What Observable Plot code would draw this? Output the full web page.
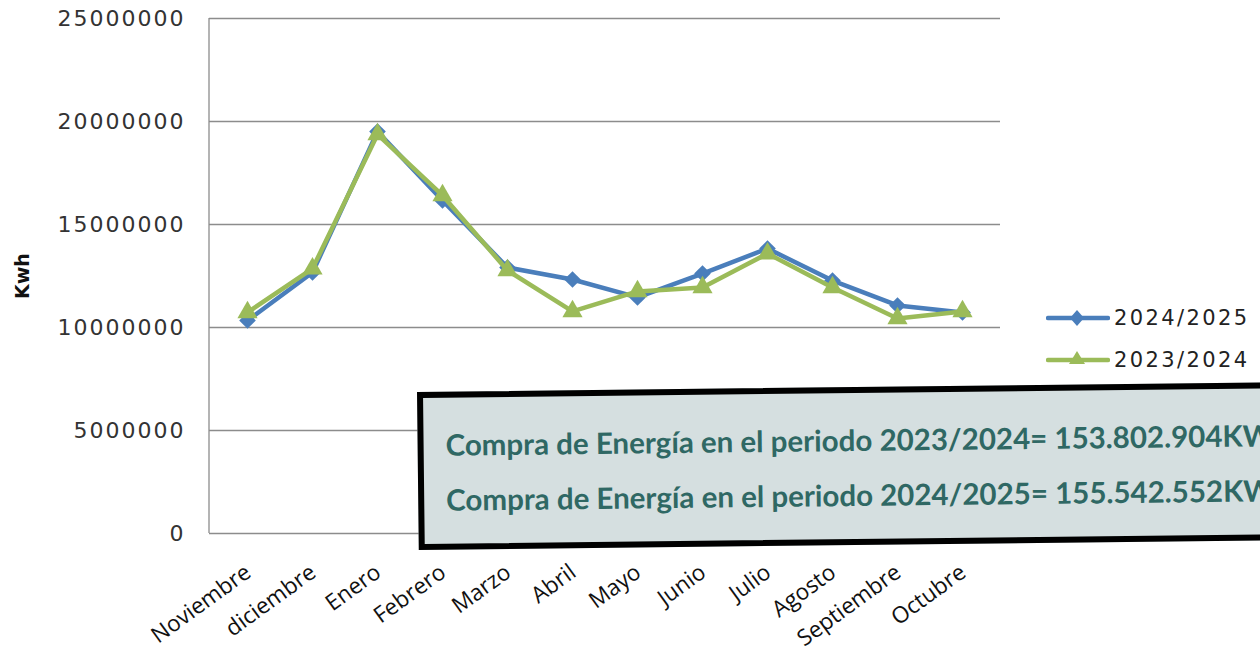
<!DOCTYPE html>
<html>
<head>
<meta charset="utf-8">
<script src="https://cdn.jsdelivr.net/npm/d3@7"></script>
<script src="https://cdn.jsdelivr.net/npm/@observablehq/plot@0.6"></script>
<style>
  html, body { margin: 0; padding: 0; background: #fff; }
  #wrap { position: relative; width: 1260px; height: 651px; overflow: hidden; background: #fff; }
  #chart { position: absolute; left: 0; top: 0; }
  #legend { position: absolute; left: 1046px; top: 297px; font-family: "DejaVu Sans", sans-serif; font-size: 21px; letter-spacing: 2.4px; color: #222; }
  #legend .row { display: flex; align-items: center; height: 42px; }
  #legend svg { margin-right: 4px; }
  #box { position: absolute; left: 417px; top: 392px; width: 900px; height: 146px; border: 6px solid #000;
         background: #d5dfe0; transform: rotate(-0.65deg); transform-origin: 0 0;
         font-family: Lato, "Open Sans", sans-serif; font-weight: bold; font-size: 29.5px; color: #2f6864; }
  #box div { position: absolute; left: 22px; white-space: nowrap; }
</style>
</head>
<body>
<div id="wrap">
  <div id="chart"></div>
  <div id="legend"></div>
  <div id="box">
    <div id="l1" style="top: 29px;"></div>
    <div id="l2" style="top: 84px;"></div>
  </div>
</div>
<script>
const months = ["Noviembre", "diciembre", "Enero", "Febrero", "Marzo", "Abril", "Mayo", "Junio", "Julio", "Agosto", "Septiembre", "Octubre"];
const seriesNames = ["2024/2025", "2023/2024"];
const s2425 = [10340000, 12670000, 19510000, 16170000, 12910000, 12330000, 11460000, 12620000, 13830000, 12280000, 11070000, 10730000];
const s2324 = [10730000, 12860000, 19370000, 16410000, 12770000, 10780000, 11750000, 11940000, 13590000, 11940000, 10440000, 10780000];
const yTicks = [0, 5000000, 10000000, 15000000, 20000000, 25000000];
const colors = ["#4a7ebb", "#9bbb59"];
const symbols = ["diamond2", "triangle"];
const yLabel = "Kwh";
const boxLines = [
  "Compra de Energía en el periodo 2023/2024= 153.802.904KWh",
  "Compra de Energía en el periodo 2024/2025= 155.542.552KWh"
];

const rows = [
  ...months.map((m, i) => ({month: m, value: s2425[i], series: seriesNames[0]})),
  ...months.map((m, i) => ({month: m, value: s2324[i], series: seriesNames[1]}))
];
const blue = rows.filter(d => d.series === seriesNames[0]);
const green = rows.filter(d => d.series === seriesNames[1]);

function leftLine(index, scales, values, dims) {
  const ns = "http://www.w3.org/2000/svg";
  const l = document.createElementNS(ns, "line");
  l.setAttribute("x1", dims.marginLeft);
  l.setAttribute("x2", dims.marginLeft);
  l.setAttribute("y1", dims.marginTop);
  l.setAttribute("y2", dims.height - dims.marginBottom);
  l.setAttribute("stroke", "#8c8c8c");
  l.setAttribute("stroke-width", 1.3);
  return l;
}

const chart = Plot.plot({
  width: 1260,
  height: 651,
  marginLeft: 209,
  marginRight: 260,
  marginTop: 18,
  marginBottom: 118,
  style: {background: "transparent", fontFamily: "DejaVu Sans, sans-serif"},
  x: {type: "point", domain: months, padding: 0.5, axis: null},
  y: {domain: [0, 25000000], axis: null},
  color: {domain: seriesNames, range: colors},
  symbol: {domain: seriesNames, range: symbols},
  marks: [
    Plot.ruleY(yTicks, {stroke: "#8c8c8c", strokeWidth: 1.3}),
    leftLine,
    Plot.text(yTicks, {y: d => d, text: d => String(d), frameAnchor: "left", textAnchor: "end", dx: -24, fontSize: 22, fill: "#333"}),
    Plot.text([yLabel], {frameAnchor: "left", textAnchor: "middle", dx: -187, rotate: -90, fontSize: 19, fontWeight: "bold", fill: "#111"}),
    Plot.text(months, {x: d => d, frameAnchor: "bottom", dx: 5, dy: 42, rotate: -36, textAnchor: "end", fontSize: 22.5, fontFamily: "Open Sans, sans-serif", fill: "#111"}),
    Plot.line(blue, {x: "month", y: "value", stroke: "series", strokeWidth: 4.5}),
    Plot.dot(blue, {x: "month", y: "value", fill: "series", symbol: "series", r: 7.5, stroke: null}),
    Plot.line(green, {x: "month", y: "value", stroke: "series", strokeWidth: 4.5}),
    Plot.dot(green, {x: "month", y: "value", fill: "series", symbol: "series", r: 7.5, stroke: null})
  ]
});
document.getElementById("chart").appendChild(chart);

// widen the y tick labels like the reference
const tickStrings = yTicks.map(String);
d3.select(chart).selectAll("text")
  .filter(function() { return tickStrings.includes(this.textContent); })
  .style("letter-spacing", "2px");

// legend
const legend = document.getElementById("legend");
seriesNames.forEach((name, i) => {
  const row = document.createElement("div");
  row.className = "row";
  const sym = symbols[i] === "diamond2"
    ? `<path d="M31,9 L38,17 L31,25 L24,17Z" fill="${colors[i]}"/>`
    : `<path d="M31,8 L39,21 L23,21Z" fill="${colors[i]}"/>`;
  row.innerHTML = `<svg width="64" height="34"><line x1="2" x2="62" y1="17" y2="17" stroke="${colors[i]}" stroke-width="4.5" stroke-linecap="round"/>${sym}</svg><span>${name}</span>`;
  legend.appendChild(row);
});

document.getElementById("l1").textContent = boxLines[0];
document.getElementById("l2").textContent = boxLines[1];
</script>
</body>
</html>
